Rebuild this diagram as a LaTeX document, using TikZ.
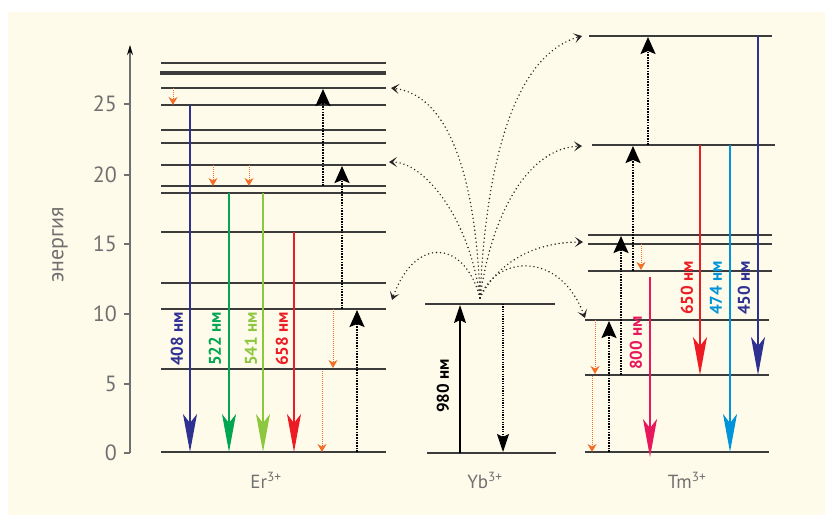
\documentclass[tikz,border=0pt]{standalone}
\usepackage{fontspec}
\setmainfont{PT Sans}
\usetikzlibrary{arrows.meta}
\definecolor{bgc}{RGB}{255,251,234}
\definecolor{lvlc}{RGB}{60,60,60}
\definecolor{axc}{RGB}{112,112,112}
\definecolor{cblue}{RGB}{46,49,146}
\definecolor{cgreen}{RGB}{0,166,81}
\definecolor{clime}{RGB}{141,198,63}
\definecolor{cred}{RGB}{237,28,36}
\definecolor{cpink}{RGB}{232,24,92}
\definecolor{ccyan}{RGB}{0,149,218}
\definecolor{corange}{RGB}{242,110,40}
\newcommand\lblfont{\bfseries\fontsize{17}{17}\selectfont}
\begin{document}
\begin{tikzpicture}[x=1pt,y=-1pt,
  lvl/.style={draw=lvlc,line width=1.8pt},
  lvlthick/.style={draw=lvlc,line width=3.4pt},
  emi/.style={line width=1.4pt,-{Stealth[length=38pt,width=14pt,inset=9pt]}},
  pump/.style={draw=black,line width=2pt,dash pattern=on 1.6pt off 1.1pt,-{Stealth[length=17pt,width=15pt,inset=3pt]}},
  relax/.style={draw=corange,line width=1pt,dash pattern=on 1pt off 1pt,-{Stealth[length=8pt,width=9pt,inset=2.5pt]}},
  transfer/.style={draw=black!85,line width=1.6pt,dash pattern=on 0pt off 4pt,line cap=round,-{Stealth[length=8pt,width=10pt,inset=4pt]}},
  lbl/.style={rotate=90,anchor=west,font=\lblfont,inner sep=0pt},
  tick/.style={anchor=east,text=axc,font=\fontsize{22}{22}\selectfont,inner sep=0pt},
  ion/.style={anchor=base,text=axc,font=\fontsize{19}{19}\selectfont,inner sep=0pt}]
\useasboundingbox (0,0) rectangle (825,515);
\fill[white] (0,0) rectangle (825,515);
\fill[bgc] (8,12) rectangle (825,515);

% axis
\coordinate (ax0) at (130,453);
\coordinate (axtop) at (130,45);
\draw[axc,line width=1.2pt,-{Stealth[length=10pt,width=6pt,color=black]}] (ax0) -- (axtop);
\foreach \v/\yy in {0/453,5/384,10/314,15/244,20/175,25/104}{
  \draw[axc,line width=1.2pt] (124,\yy) -- (130,\yy);
  \node[tick] (t\v) at (117,\yy) {\v};
}
\node[rotate=90,text=axc,font=\fontsize{22}{22}\selectfont] (elab) at (60,245) {энергия};

% Er levels
\foreach \yy in {452,369,309,283,232,193,186,165,143,130,105,88,63}{
  \draw[lvl] (161,\yy) -- (386,\yy);
}
\draw[lvlthick] (160,73) -- (386,73);

% Er emissions
\draw[emi,cblue] (190,105) -- (190,452);
\draw[emi,cgreen] (229,193) -- (229,452);
\draw[emi,clime] (263,193) -- (263,452);
\draw[emi,cred] (294,232) -- (294,452);
\node[lbl,text=cblue] (l408) at (177,366) {408 нм};
\node[lbl,text=cgreen] (l522) at (215,366) {522 нм};
\node[lbl,text=clime] (l541) at (251,366) {541 нм};
\node[lbl,text=cred] (l658) at (282,366) {658 нм};

% Er pumps
\draw[pump] (357,452) -- (357,310);
\draw[pump] (342,309) -- (342,166);
\draw[pump] (323,186) -- (323,89);

% Er relaxations
\draw[relax] (173,88) -- (173,105);
\draw[relax] (213,165) -- (213,186);
\draw[relax] (249,165) -- (249,186);
\draw[relax] (333,309) -- (333,368);
\draw[relax] (322,371) -- (322,452);

% Yb
\draw[lvl] (427,453) -- (556,453);
\draw[lvl] (425,304) -- (555,304);
\draw[line width=1.4pt,-{Stealth[length=18pt,width=12pt,inset=3pt]}] (460,453) -- (460,305);
\draw[line width=1.2pt,dash pattern=on 1.2pt off 1.2pt,-{Stealth[length=18pt,width=12pt,inset=3pt]}] (503,304) -- (503,452);
\node[lbl,text=black] (l980) at (443,413) {980 нм};

% Tm levels
\draw[lvl] (589,36) -- (772,36);
\draw[lvl] (592,145) -- (775,145);
\foreach \yy in {235,244,271}{ \draw[lvl] (588,\yy) -- (772,\yy); }
\foreach \yy in {320,375,452}{ \draw[lvl] (585,\yy) -- (769,\yy); }

% Tm pumps
\draw[pump] (648,145) -- (648,37);
\draw[pump] (633,271) -- (633,146);
\draw[pump] (621,375) -- (621,236);
\draw[pump] (609,452) -- (609,321);

% Tm relaxations
\draw[relax] (641,244) -- (641,270);
\draw[relax] (595,320) -- (595,374);
\draw[relax] (592,376) -- (592,452);

% Tm emissions
\draw[emi,cpink] (650,277) -- (650,457);
\draw[emi,cred] (700,145) -- (700,375);
\draw[emi,ccyan] (730,145) -- (730,452);
\draw[emi,cblue] (758,36) -- (758,375);
\node[lbl,text=cpink] (l800) at (636,370) {800 нм};
\node[lbl,text=cred] (l650) at (687,315) {650 нм};
\node[lbl,text=ccyan] (l474) at (716,315) {474 нм};
\node[lbl,text=cblue] (l450) at (744,315) {450 нм};

% energy transfer curves
\coordinate (yb) at (480,298);
\coordinate (er1) at (391,88);
\coordinate (er2) at (389,162);
\coordinate (er3) at (392,300);
\coordinate (tm1) at (582,36);
\coordinate (tm2) at (582,146);
\coordinate (tm3) at (583,242);
\coordinate (tm4) at (585,318);
\draw[transfer] (yb) .. controls (476,180) and (450,95) .. (er1);
\draw[transfer] (yb) .. controls (470,220) and (425,162) .. (er2);
\draw[transfer] (yb) .. controls (465,240) and (415,235) .. (er3);
\draw[transfer] (yb) .. controls (486,160) and (515,55) .. (tm1);
\draw[transfer] (yb) .. controls (492,210) and (530,148) .. (tm2);
\draw[transfer] (yb) .. controls (500,258) and (540,242) .. (tm3);
\draw[transfer] (yb) .. controls (495,255) and (560,250) .. (tm4);

% ion labels
\node[ion] (er) at (266,488) {Er\textsuperscript{3+}};
\node[ion] (ybl) at (485,488) {Yb\textsuperscript{3+}};
\node[ion] (tm) at (687,488) {Tm\textsuperscript{3+}};
\end{tikzpicture}
\end{document}
